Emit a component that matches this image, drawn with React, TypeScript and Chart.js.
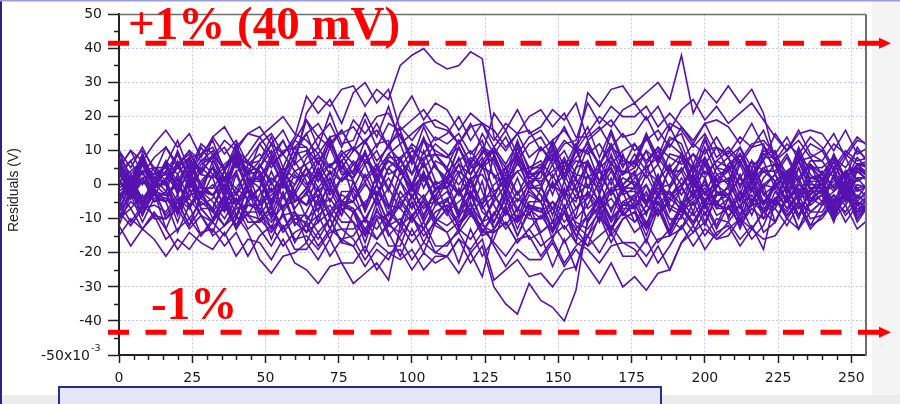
import React, { useEffect, useRef } from 'react';
import { Chart, registerables } from 'chart.js';

Chart.register(...registerables);

// Sample index (x) shared by all residual traces
const sampleIndex = [0,4,8,12,16,20,24,28,32,36,40,44,48,52,56,60,64,68,72,76,80,84,88,92,96,100,104,108,112,116,120,124,128,132,136,140,144,148,152,156,160,164,168,172,176,180,184,188,192,196,200,204,208,212,216,220,224,228,232,236,240,244,248,252,256];

// Residuals in mV (axis is V with x10^-3 multiplier)
const residual01 = [3,-1,4,5, 3,6,9,4, 8,11,5,9, 14,9,13,6, 21,26,23,28, 29,23,28,25, 35,38,40,36, 34,35,39,37, 14,10,15,16, 10,13,16,11, 9,12,6,10, 12,7,11,4, 4,9,6,11, 8,2,7,4, 4,9,2,7, 7,2,8,1, 3];
const residual02 = [1,-4,2,-5, -4,-8,-3,-2, -10,-7,-4,-9, -10,-7,-13,-9, -9,-14,-10,-17, -18,-13,-16,-11, -16,-22,-17,-20, -21,-16,-23,-18, -30,-35,-38,-29, -34,-36,-40,-31, -10,-7,-4,-9, -6,-3,-9,-5, -1,-6,-2,-9, -7,-2,-5,0, -1,-7,-2,-5, -3,2,-5,0, -1];
const residual03 = [2,7,0,5, 5,0,6,-1, 5,1,6,7, 3,6,9,4, 6,9,3,7, 11,6,10,3, 5,10,7,12, 9,3,8,5, 11,16,9,14, 16,11,17,10, 27,23,28,29, 24,27,30,25, 38,21,28,24, 29,24,28,21, 7,12,9,14, 11,5,10,7, 8];
const residual04 = [-5,-11,-6,-9, -10,-5,-12,-7, -7,-12,-6,-13, -10,-14,-9,-8, -14,-11,-8,-13, -13,-10,-16,-12, -10,-15,-11,-18, -18,-13,-16,-11, -18,-24,-19,-22, -22,-17,-24,-19, -24,-29,-23,-30, -27,-31,-26,-25, -17,-14,-11,-16, -13,-10,-16,-12, -4,-9,-5,-12, -10,-5,-8,-3, -6];
const residual05 = [-15,-10,-13,-8, -13,-19,-14,-17, -19,-14,-21,-16, -17,-22,-16,-23, -25,-29,-24,-23, -29,-26,-23,-28, -12,-9,-15,-11, -7,-12,-8,-15, -13,-8,-11,-6, -7,-13,-8,-11, -13,-8,-15,-10, -8,-13,-7,-14, -7,-11,-6,-5, -9,-6,-3,-8, -6,-3,-9,-5, -1,-6,-2,-9, -5];
const residual06 = [6,1,7,0, 4,9,2,7, 10,4,9,6, 7,12,9,14, 26,21,25,18, 27,30,24,28, 16,19,22,17, 16,12,17,18, 11,6,12,5, 5,10,3,8, 12,6,11,8, 5,10,7,12, 9,4,8,1, 4,7,1,5, 1,4,7,2, 3,-1,4,5, 2];
const residual07 = [-12,-18,-13,-16, -21,-16,-19,-14, -13,-18,-14,-21, -15,-12,-18,-14, -12,-9,-6,-11, -11,-15,-10,-9, -5,-10,-4,-11, -7,-2,-9,-4, -3,-9,-4,-7, -10,-5,-8,-3, 0,-5,-1,-8, -3,0,-6,-2, -8,-5,-2,-7, -7,-11,-6,-5, -7,-12,-6,-13, -9,-4,-11,-6, -8];
const residual08 = [-2,-7,-3,-10, -10,-7,-13,-9, -15,-12,-9,-14, -22,-26,-21,-20, -17,-22,-16,-23, -23,-18,-25,-20, -19,-25,-20,-23, -21,-16,-19,-14, -8,-13,-9,-16, -14,-11,-17,-13, -18,-15,-12,-17, -17,-21,-16,-15, -9,-14,-8,-15, -11,-6,-13,-8, -4,-10,-5,-8, -8,-3,-6,-1, -4];
const residual09 = [-4,-1,2,-3, -4,-8,-3,-2, -5,-10,-4,-11, -11,-6,-13,-8, -12,-18,-13,-16, -15,-10,-13,-8, -12,-17,-13,-20, -17,-14,-20,-16, -28,-25,-22,-27, -26,-30,-25,-24, -15,-20,-14,-21, -21,-16,-23,-18, -12,-18,-13,-16, -15,-10,-13,-8, -4,-9,-5,-12, -6,-3,-9,-5, -7];
const residual10 = [5,10,3,8, 11,5,10,7, 8,13,10,15, 17,12,16,9, 15,18,12,16, 10,13,16,11, 17,13,18,19, 17,12,18,11, 9,14,7,12, 14,8,13,10, 15,20,17,22, 24,19,23,16, 22,25,19,23, 18,21,24,19, 14,10,15,16, 15,10,16,9, 11];
const residual11 = [5,10,7,12, 16,11,15,8, 14,17,11,15, 14,17,20,15, 13,9,14,15, 17,12,18,11, 21,26,19,24, 22,16,21,18, 13,18,15,20, 22,17,21,14, 14,17,11,15, 10,13,16,11, 17,13,18,19, 17,12,18,11, 9,14,7,12, 10,4,9,6, 7];
const residual12 = [-10,-7,-13,-9, -16,-13,-10,-15, -11,-15,-10,-9, -13,-18,-12,-19, -19,-14,-21,-16, -18,-24,-19,-22, -15,-10,-13,-8, -6,-11,-7,-14, -14,-11,-17,-13, -18,-15,-12,-17, -19,-23,-18,-17, -19,-24,-18,-25, -17,-12,-19,-14, -12,-18,-13,-16, -15,-10,-13,-8, -5,-10,-6,-13, -10];
const residual13 = [1,-3,2,3, 5,0,6,-1, -3,2,-5,0, 6,0,5,2, 3,8,5,10, 6,1,5,-2, 8,11,5,9, 4,7,10,5, 3,-1,4,5, 7,2,8,1, -1,4,-3,2, 0,-6,-1,-4, 0,5,2,7, 5,0,4,-3, 0,3,-3,1, -3,0,3,-2, 0];
const residual14 = [5,0,6,-1, 1,-5,0,-3, 7,2,6,-1, -5,-2,1,-4, -6,-1,-8,-3, -5,0,-3,2, -4,-1,-7,-3, 1,-3,2,3, -3,-8,-2,-9, -1,-7,-2,-5, 6,1,5,-2, 2,5,8,3, -3,2,-5,0, -3,2,-1,4, 1,4,-2,2, 3,-1,4,5, 3];
const residual15 = [-5,0,-7,-2, -9,-4,-7,-2, -3,0,-6,-2, -7,-11,-6,-5, -1,-6,0,-7, -7,-13,-8,-11, -2,-7,-3,-10, -12,-9,-6,-11, -5,0,-7,-2, -5,0,-3,2, -7,-4,-10,-6, -4,-8,-3,-2, -6,-11,-5,-12, -4,-10,-5,-8, 0,-5,-1,-8, -5,-2,1,-4, -3];
const residual16 = [7,1,6,3, 11,6,10,3, 2,5,8,3, 12,7,13,6, 9,14,11,16, 10,13,7,11, 7,3,8,9, 8,13,6,11, 7,1,6,3, 11,6,10,3, 2,5,8,3, 9,4,10,3, 7,12,9,14, 8,11,5,9, 6,2,7,8, 3,8,1,6, 5];
const residual17 = [-10,-5,-8,-3, -3,0,-6,-2, -8,-12,-7,-6, -6,-1,-8,-3, 3,-2,2,-5, -8,-5,-2,-7, 1,-4,2,-5, -2,-8,-3,-6, -13,-8,-11,-6, -8,-5,-11,-7, -2,-6,-1,0, -7,-2,-9,-4, 2,-3,1,-6, -7,-4,-1,-6, 0,-5,1,-6, -3,-9,-4,-7, -6];
const residual18 = [5,0,4,-3, 2,5,8,3, 9,4,10,3, 4,-2,3,0, 8,11,5,9, 11,7,12,13, 3,8,1,6, -1,4,1,6, 10,5,9,2, 1,4,7,2, 11,6,12,5, 12,6,11,8, 6,9,3,7, 10,6,11,12, 3,8,1,6, 3,8,5,10, 7];
const residual19 = [-1,2,-4,0, -3,-7,-2,-1, -1,4,-3,2, -9,-4,-7,-2, -10,-7,-4,-9, -1,-6,0,-7, 4,-2,3,0, 2,-3,1,-6, 0,3,-3,1, -3,-7,-2,-1, -11,-6,-13,-8, -11,-6,-9,-4, -7,-4,-1,-6, 0,-5,1,-6, 1,-5,0,-3, 4,-1,3,-4, 1];
const residual20 = [1,4,7,2, 3,-2,4,-3, 0,-6,-1,-4, 6,1,5,-2, 5,1,6,7, -4,1,-6,-1, 7,12,9,14, 12,15,9,13, 2,5,8,3, 4,-1,5,-2, 7,1,6,3, 7,2,6,-1, 9,5,10,11, 4,9,2,7, -1,4,1,6, 1,4,-2,2, 2];
const residual21 = [-8,-12,-7,-6, -8,-3,-10,-5, -8,-3,-6,-1, -11,-8,-14,-10, -11,-16,-10,-17, -8,-14,-9,-12, -4,-9,-5,-12, -14,-11,-8,-13, -17,-21,-16,-15, -21,-16,-23,-18, -15,-10,-13,-8, -14,-11,-17,-13, -7,-12,-6,-13, -6,-12,-7,-10, -2,-7,-3,-10, -9,-6,-3,-8, -7];
const residual22 = [10,5,11,4, 0,5,2,7, 3,6,9,4, 5,10,3,8, 19,14,18,11, 19,15,20,21, 14,8,13,10, 8,11,5,9, 21,16,22,15, 17,22,19,24, 13,16,19,14, 15,20,13,18, 16,11,15,8, 11,7,12,13, 9,3,8,5, 5,8,2,6, 6];
const residual23 = [-4,1,-6,-1, 4,-1,3,-4, 3,-1,4,5, 1,-5,0,-3, -6,-3,-9,-5, -5,-10,-4,-11, -6,-1,-4,1, -8,-5,-2,-7, -3,2,-5,0, 4,-1,3,-4, -3,-7,-2,-1, 1,-5,0,-3, 0,3,-3,1, 1,-4,2,-5, -1,4,1,6, -2,1,4,-1, 0];
const residual24 = [2,-4,1,-2, -3,0,-6,-2, -3,-8,-2,-9, -3,2,-1,4, 0,3,6,1, 4,9,2,7, 4,-1,3,-4, 4,0,5,6, -6,-12,-7,-10, -10,-7,-13,-9, 3,-2,4,-3, -1,4,1,6, -6,-3,0,-5, -3,2,-5,0, 3,-2,2,-5, 2,-2,3,4, 1];
const residual25 = [-8,-3,-6,-1, -10,-7,-4,-9, -11,-6,-13,-8, -8,-13,-9,-16, -15,-19,-14,-13, -16,-22,-17,-20, -22,-19,-25,-21, -21,-26,-20,-27, -13,-8,-11,-6, -14,-11,-8,-13, -9,-4,-11,-6, -6,-11,-7,-14, -5,-9,-4,-3, -3,-9,-4,-7, -4,-1,-7,-3, 0,-5,1,-6, -3];
const residual26 = [8,3,7,0, 7,3,8,9, 11,5,10,7, 12,15,9,13, 11,6,12,5, 2,7,4,9, 12,15,18,13, 15,20,13,18, 16,11,15,8, 11,7,12,13, 24,18,23,20, 20,23,17,21, 17,12,18,11, 9,14,11,16, 7,10,13,8, 10,15,8,13, 12];
const residual27 = [-2,1,-5,-1, 6,1,7,0, -3,2,-1,4, -6,-3,0,-5, -1,4,-3,2, 7,2,6,-1, -7,-11,-6,-5, -8,-14,-9,-12, -14,-11,-17,-13, -9,-14,-8,-15, -9,-4,-7,-2, -11,-8,-5,-10, -13,-8,-15,-10, -11,-16,-12,-19, -4,-8,-3,-2, -2,-8,-3,-6, -5];
const residual28 = [4,7,10,5, 1,6,-1,4, 14,9,13,6, 9,5,10,11, 5,-1,4,1, 6,9,3,7, 5,0,6,-1, 1,6,3,8, -2,1,4,-1, 4,9,2,7, 6,1,5,-2, -2,-6,-1,0, 5,-1,4,1, 6,9,3,7, 15,10,16,9, 7,12,9,14, 11];
const residual29 = [5,-4,4,-5, -2,7,-1,6, 8,-1,9,1, 1,9,2,11, 11,3,13,4, 2,9,0,8, 8,-1,7,-2, 2,11,3,10, 6,-3,7,-1, -5,3,-4,5, 7,-1,9,0, 3,10,1,9, 8,-1,7,-2, -3,6,-2,5, 6,-3,7,-1, -5,3,-4,5, 0];
const residual30 = [-6,3,-5,2, 0,-9,1,-7, -11,-3,-10,-1, -5,-13,-3,-12, -8,-1,-10,-2, -2,-11,-3,-12, -14,-5,-13,-6, -4,-13,-3,-11, -9,-1,-8,1, -3,-11,-1,-10, -6,1,-8,0, 4,-5,3,-6, -8,1,-7,0, 2,-7,3,-5, -5,3,-4,5, 2,-6,4,-5, -1];
const residual31 = [8,-1,9,1, 1,9,2,11, 6,-2,8,-1, 5,12,3,11, 15,6,14,5, 10,19,11,18, 16,7,17,9, 5,13,6,15, 9,1,11,2, 5,12,3,11, 17,8,16,7, 6,15,7,14, 12,3,13,5, 1,9,2,11, 7,-1,9,0, 0,7,-2,6, 3];
const residual32 = [-10,-2,-9,0, 0,-8,2,-7, -11,-4,-13,-5, -1,-10,-2,-11, -14,-5,-13,-6, -8,-17,-7,-15, -11,-3,-10,-1, -1,-9,1,-8, -11,-4,-13,-5, -5,-14,-6,-15, -18,-9,-17,-10, -8,-17,-7,-15, -13,-5,-12,-3, -3,-11,-1,-10, -7,0,-9,-1, 0,-9,-1,-10, -5];
const residual33 = [4,-4,6,-3, -5,2,-7,1, 5,-4,4,-5, -1,8,0,7, 1,-8,2,-6, -5,3,-4,5, 8,0,10,1, -1,6,-3,5, 3,-6,2,-7, -8,1,-7,0, 6,-3,7,-1, -5,3,-4,5, 0,-8,2,-7, -4,3,-6,2, 6,-3,5,-4, -2,7,-1,6, 2];
const residual34 = [-4,3,-6,2, 6,-3,5,-4, -7,2,-6,1, 2,-7,3,-5, -3,5,-2,7, 1,-7,3,-6, -7,0,-9,-1, -1,-10,-2,-11, -4,5,-3,4, 6,-3,7,-1, -11,-3,-10,-1, -1,-9,1,-8, -1,6,-3,5, 8,-1,7,-2, -6,3,-5,2, 1,-8,2,-6, -3];
const residual35 = [10,1,9,0, 6,13,4,12, 9,1,11,2, -1,7,0,9, 10,1,11,3, 4,13,5,12, 15,6,14,5, 1,8,-1,7, 11,3,13,4, 0,8,1,10, 10,1,11,3, 5,14,6,13, 15,6,14,5, 4,11,2,10, 8,0,10,1, 1,9,2,11, 6];
const residual36 = [-12,-3,-11,-4, -5,-14,-6,-15, -10,-3,-12,-4, -1,-9,1,-8, -17,-9,-16,-7, -11,-20,-10,-18, -18,-9,-17,-10, -4,-13,-5,-14, -9,-2,-11,-3, -5,-13,-3,-12, -15,-7,-14,-5, -3,-12,-2,-10, -10,-1,-9,-2, -4,-13,-5,-14, -11,-4,-13,-5, -3,-11,-1,-10, -6];
const residual37 = [6,-3,7,-1, 1,10,2,9, 13,4,12,3, 7,14,5,13, 19,11,21,12, 13,21,14,23, 12,3,13,5, 2,11,3,10, 9,0,8,-1, -1,6,-3,5, 13,5,15,6, 7,15,8,17, 10,1,11,3, 0,9,1,8, 8,-1,7,-2, -2,5,-4,4, 1];
const residual38 = [-8,0,-7,2, -2,-11,-1,-9, -14,-5,-13,-6, -7,-16,-8,-17, -11,-4,-13,-5, -7,-15,-5,-14, -21,-13,-20,-11, -14,-23,-13,-21, -16,-7,-15,-8, -15,-24,-16,-25, -11,-4,-13,-5, -7,-15,-5,-14, -7,1,-6,3, 4,-5,5,-3, -6,3,-5,2, 2,-7,1,-8, -3];
const residual39 = [6,-2,8,-1, -5,3,-4,5, 2,-7,3,-5, -8,1,-7,0, 5,-4,4,-5, -1,6,-3,5, 1,-7,3,-6, -5,3,-4,5, 8,-1,9,1, 2,11,3,10, 3,-6,2,-7, -7,0,-9,-1, 4,-4,6,-3, -1,7,0,9, 10,1,11,3, 0,9,1,8, 4];
const residual40 = [-7,0,-9,-1, 1,-7,3,-6, -4,4,-3,6, 4,-5,5,-3, -6,3,-5,2, 1,-8,0,-9, 1,8,-1,7, 5,-3,7,-2, -11,-3,-10,-1, 0,-9,1,-7, -4,5,-3,4, 3,-6,2,-7, -9,-2,-11,-3, -1,-9,1,-8, -11,-3,-10,-1, -1,-10,0,-8, -5];
const residual41 = [10,1,9,0, 7,-2,8,0, 5,-3,7,-2, -5,4,-4,3, -1,7,0,9, 3,10,1,9, 5,-4,4,-5, 1,-8,2,-6, 9,1,11,2, 4,13,5,12, -1,7,0,9, -1,6,-3,5, 9,0,8,-1, 6,-3,7,-1, 3,-5,5,-4, -6,3,-5,2, -2];
const residual42 = [-10,-1,-9,-2, -13,-5,-12,-3, -7,0,-9,-1, 3,-6,2,-7, -2,-11,-1,-9, 1,-7,3,-6, -12,-3,-11,-4, -9,-1,-8,1, -13,-6,-15,-7, -7,-16,-8,-17, -2,-11,-1,-9, -5,-13,-3,-12, -6,3,-5,2, -10,-2,-9,0, -11,-4,-13,-5, -1,-10,-2,-11, -6];

const residualSeries = [
  residual01, residual02, residual03, residual04, residual05, residual06, residual07,
  residual08, residual09, residual10, residual11, residual12, residual13, residual14,
  residual15, residual16, residual17, residual18, residual19, residual20, residual21,
  residual22, residual23, residual24, residual25, residual26, residual27, residual28,
  residual29, residual30, residual31, residual32, residual33, residual34, residual35,
  residual36, residual37, residual38, residual39, residual40, residual41, residual42,
];

// Tolerance limit annotations (mV)
const limitValues = [41.5, -43.3];
const limitLabels = ['+1% (40 mV)', '-1%'];

const yAxisTitle = 'Residuals (V)';

const TRACE_COLOR = '#5512ae';
const RED = '#ff0000';

const decorPlugin = {
  id: 'slideDecor',
  beforeDraw(chart: any) {
    const { ctx, width, height } = chart;
    ctx.save();
    ctx.fillStyle = '#ffffff';
    ctx.fillRect(0, 0, width, height);
    ctx.fillStyle = '#f4f4f4';
    ctx.fillRect(872, 0, width - 872, height);
    ctx.fillStyle = '#ececec';
    ctx.fillRect(0, 395, width, height - 395);
    ctx.restore();
  },
  afterDraw(chart: any) {
    const { ctx, chartArea: a, scales } = chart;
    const xs = scales.x;
    const ys = scales.y;
    ctx.save();

    // top & right frame
    ctx.strokeStyle = '#6e6e6e';
    ctx.lineWidth = 1.5;
    ctx.beginPath();
    ctx.moveTo(a.left, a.top);
    ctx.lineTo(a.right, a.top);
    ctx.stroke();
    ctx.lineWidth = 2;
    ctx.beginPath();
    ctx.moveTo(a.right, a.top);
    ctx.lineTo(a.right, a.bottom + 1);
    ctx.stroke();

    // minor ticks
    ctx.strokeStyle = '#222222';
    ctx.lineWidth = 1.5;
    ctx.beginPath();
    for (let v = -45; v <= 45; v += 10) {
      const py = Math.round(ys.getPixelForValue(v)) + 0.5;
      ctx.moveTo(a.left - 5, py);
      ctx.lineTo(a.left, py);
    }
    for (let v = 5; v < 255; v += 5) {
      if (v % 25 === 0) continue;
      const px = Math.round(xs.getPixelForValue(v)) + 0.5;
      ctx.moveTo(px, a.bottom);
      ctx.lineTo(px, a.bottom + 5);
    }
    ctx.stroke();

    // red limit lines with arrows
    limitValues.forEach((val) => {
      const py = ys.getPixelForValue(val);
      ctx.strokeStyle = RED;
      ctx.lineWidth = 5;
      ctx.setLineDash([21, 16.5]);
      ctx.lineCap = 'butt';
      ctx.beginPath();
      ctx.moveTo(108, py);
      ctx.lineTo(880, py);
      ctx.stroke();
      ctx.setLineDash([]);
      ctx.fillStyle = RED;
      ctx.beginPath();
      ctx.moveTo(879, py - 5.5);
      ctx.lineTo(891, py);
      ctx.lineTo(879, py + 5.5);
      ctx.closePath();
      ctx.fill();
    });

    ctx.fillStyle = RED;
    ctx.font = 'bold 47px "Liberation Serif"';
    ctx.textAlign = 'left';
    ctx.textBaseline = 'alphabetic';
    ctx.fillText(limitLabels[0], 128, 39);
    ctx.fillText(limitLabels[1], 151, 319);

    // y axis title
    ctx.save();
    ctx.translate(14, 190);
    ctx.rotate(-Math.PI / 2);
    ctx.fillStyle = '#222222';
    ctx.font = '14px "Liberation Sans"';
    ctx.textAlign = 'center';
    ctx.textBaseline = 'middle';
    ctx.fillText(yAxisTitle, 0, 0);
    ctx.restore();

    // -50x10^-3 label
    const yb = ys.getPixelForValue(-50);
    ctx.fillStyle = '#1a1a1a';
    ctx.font = '14px "DejaVu Sans"';
    ctx.textAlign = 'right';
    ctx.textBaseline = 'middle';
    ctx.fillText('-50x10', 90, yb + 1);
    ctx.font = '9.5px "DejaVu Sans"';
    ctx.textAlign = 'left';
    ctx.fillText('-3', 91, yb - 6);

    // slide frame
    ctx.fillStyle = '#26267c';
    ctx.fillRect(0, 0, 2, chart.height);
    ctx.fillStyle = '#9c9cd8';
    ctx.fillRect(0, 0, chart.width, 1.5);

    // bottom text box
    ctx.fillStyle = '#e5e5f6';
    ctx.fillRect(58, 386, 604, 20);
    ctx.strokeStyle = '#2b2b8c';
    ctx.lineWidth = 2;
    ctx.strokeRect(59, 387, 602, 30);

    ctx.restore();
  },
};

export default function App() {
  const canvasRef = useRef<HTMLCanvasElement | null>(null);

  useEffect(() => {
    const canvas = canvasRef.current;
    if (!canvas) return;
    const tickFont = { family: '"DejaVu Sans"', size: 14 };
    const chart = new Chart(canvas, {
      type: 'line',
      data: {
        labels: sampleIndex,
        datasets: residualSeries.map((s, i) => ({
          label: `trace ${i + 1}`,
          data: s,
          borderColor: TRACE_COLOR,
          borderWidth: 1.6,
          pointRadius: 0,
          tension: 0,
          fill: false,
        })),
      },
      options: {
        animation: false,
        responsive: false,
        maintainAspectRatio: false,
        events: [],
        layout: { padding: { top: 14, right: 34, left: 0, bottom: 0 } },
        plugins: {
          legend: { display: false },
          tooltip: { enabled: false },
        },
        scales: {
          x: {
            type: 'linear',
            min: 0,
            max: 255,
            afterFit(scale: any) {
              scale.height = 49;
            },
            ticks: {
              stepSize: 25,
              includeBounds: false,
              autoSkip: false,
              maxRotation: 0,
              color: '#1a1a1a',
              font: tickFont,
              padding: 7,
            },
            grid: {
              color: '#c8c8ec',
              lineWidth: 1,
              tickColor: '#222222',
              tickLength: 8,
              tickWidth: 1.5,
            },
            border: { color: '#222222', width: 2, dash: [2, 2] },
          },
          y: {
            min: -50,
            max: 50,
            afterFit(scale: any) {
              scale.width = 119;
            },
            ticks: {
              stepSize: 10,
              color: '#1a1a1a',
              font: tickFont,
              padding: 6,
              callback: (v: any) => (v === -50 ? '' : String(v)),
            },
            grid: {
              color: '#c8c8ec',
              lineWidth: 1,
              tickColor: '#222222',
              tickLength: 11,
              tickWidth: 1.5,
            },
            border: { color: '#222222', width: 2, dash: [2, 2] },
          },
        },
      },
      plugins: [decorPlugin],
    } as any);
    return () => chart.destroy();
  }, []);

  return (
    <div style={{ position: 'absolute', left: 0, top: 0, width: 900, height: 404 }}>
      <canvas ref={canvasRef} width={900} height={404} style={{ display: 'block' }} />
    </div>
  );
}
